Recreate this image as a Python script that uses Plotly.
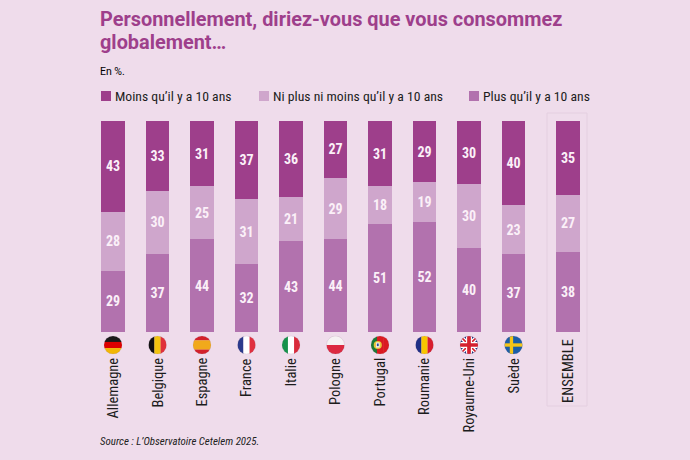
import base64
import plotly.graph_objects as go

countries = ["Allemagne", "Belgique", "Espagne", "France", "Italie", "Pologne",
             "Portugal", "Roumanie", "Royaume-Uni", "Suède", "ENSEMBLE"]
positions = [0, 1, 2, 3, 4, 5, 6, 7, 8, 9, 10.225]
moins = [43, 33, 31, 37, 36, 27, 31, 29, 30, 40, 35]
ni = [28, 30, 25, 31, 21, 29, 18, 19, 30, 23, 27]
plus = [29, 37, 44, 32, 43, 44, 51, 52, 40, 37, 38]
title_lines = ["Personnellement, diriez-vous que vous consommez", "globalement…"]
series_names = ["Moins qu’il y a 10 ans", "Ni plus ni moins qu’il y a 10 ans", "Plus qu’il y a 10 ans"]

BG = "#EFDCEB"
C_MOINS = "#9E3F8B"
C_NI = "#CFA6CC"
C_PLUS = "#B272AE"
NARROW = "Roboto Condensed, Roboto, sans-serif"

L, R, T, B = 90, 600, 121, 332
W, H = 690, 460
def py(p):
    return (B - p) / (B - T)
def px(p):
    return (p - L) / (R - L)

def stripes_h(*cols):
    h = 100 / len(cols)
    return "".join(f'<rect x="0" y="{i*h}" width="100" height="{h+0.5}" fill="{c}"/>' for i, c in enumerate(cols))
def stripes_v(*cols):
    w = 100 / len(cols)
    return "".join(f'<rect x="{i*w}" y="0" width="{w+0.5}" height="100" fill="{c}"/>' for i, c in enumerate(cols))

flags = {
    "Allemagne": stripes_h("#1a1a1a", "#DD0000", "#F2B705"),
    "Belgique": stripes_v("#111111", "#F2C40F", "#E0303A"),
    "Espagne": stripes_h("#D3202A", "#F1A91B", "#F1A91B", "#D3202A"),
    "France": stripes_v("#2B3A8C", "#FFFFFF", "#E0303F"),
    "Italie": stripes_v("#16924B", "#FFFFFF", "#D92B3B"),
    "Pologne": stripes_h("#F6F1F3", "#DC2A41"),
    "Portugal": stripes_v("#1B7A36", "#DA1A20", "#DA1A20")
        + '<circle cx="38" cy="50" r="22" fill="#E8C53A"/><rect x="28" y="36" width="20" height="28" fill="#F4F0EC"/><rect x="33" y="42" width="10" height="14" fill="#2A4A9A"/>',
    "Roumanie": stripes_v("#1F2F86", "#F7C600", "#D81E2E"),
    "Royaume-Uni": '<rect width="100" height="100" fill="#27347F"/>'
        '<path d="M0 0L100 100M100 0L0 100" stroke="#fff" stroke-width="22"/>'
        '<path d="M0 0L100 100M100 0L0 100" stroke="#D5202F" stroke-width="9"/>'
        '<path d="M50 0V100M0 50H100" stroke="#fff" stroke-width="32"/>'
        '<path d="M50 0V100M0 50H100" stroke="#D5202F" stroke-width="20"/>',
    "Suède": '<rect width="100" height="100" fill="#1B5EA8"/>'
        '<rect x="30" y="0" width="18" height="100" fill="#F5C518"/>'
        '<rect x="0" y="41" width="100" height="18" fill="#F5C518"/>',
}

def flag_uri(body):
    svg = ('<svg xmlns="http://www.w3.org/2000/svg" width="108" height="108" viewBox="0 0 100 100">'
           '<defs><clipPath id="c"><circle cx="50" cy="50" r="49"/></clipPath></defs>'
           f'<g clip-path="url(#c)">{body}</g>'
           '<circle cx="50" cy="50" r="49" fill="none" stroke="#8a6f85" stroke-opacity="0.45" stroke-width="2"/></svg>')
    return "data:image/svg+xml;base64," + base64.b64encode(svg.encode("utf-8")).decode()

fig = go.Figure()
for name, vals, col in [(series_names[2], plus, C_PLUS),
                        (series_names[1], ni, C_NI),
                        (series_names[0], moins, C_MOINS)]:
    fig.add_trace(go.Bar(
        x=positions, y=vals, name=name, width=0.525,
        marker=dict(color=col, line=dict(width=0)),
        text=vals, textposition="inside", insidetextanchor="middle", textangle=0,
        insidetextfont=dict(family=NARROW, size=14, color="#FBF0F8", weight="bold"),
        cliponaxis=False, hoverinfo="skip", showlegend=False,
    ))

annotations = []
for c, x in zip(countries, positions):
    top = 339 if c == "ENSEMBLE" else 358
    annotations.append(dict(x=x, y=py(top), xref="x", yref="paper", text=c, showarrow=False,
                            textangle=-90, xanchor="center", yanchor="top", borderpad=0, borderwidth=0,
                            font=dict(family=NARROW, size=14.5, color="#1c1c1c")))

def left_text(text, xp, yp, family, size, color, weight="normal"):
    return dict(x=px(xp), y=py(yp), xref="paper", yref="paper", text=text, showarrow=False,
                xanchor="left", yanchor="middle", borderpad=0, borderwidth=0,
                font=dict(family=family, size=size, color=color, weight=weight))

for text, yp in zip(title_lines, [19.5, 42.5]):
    annotations.append(left_text(text, 100, yp, "Roboto, sans-serif", 19.9, C_MOINS, "bold"))
annotations.append(left_text("En %.", 100, 71, "Roboto, sans-serif", 10.5, "#000000"))
annotations.append(left_text("<i>Source : L’Observatoire Cetelem 2025.</i>", 100, 441.5, NARROW, 10.9, "#222222"))

shapes = [dict(type="rect", xref="paper", yref="paper",
               x0=px(547), x1=px(587), y0=py(406), y1=py(113),
               fillcolor="rgba(0,0,0,0)", line=dict(color="#E4CFE0", width=1), layer="below")]
for name, col, sx in zip(series_names, [C_MOINS, C_NI, C_PLUS], [101, 259, 469]):
    shapes.append(dict(type="rect", xref="paper", yref="paper", x0=px(sx), x1=px(sx + 10),
                       y0=py(101), y1=py(91), fillcolor=col, line=dict(width=0)))
    annotations.append(left_text(name, sx + 14, 96, NARROW, 13.7, "#1c1c1c"))

images = []
for c, x in zip(countries, positions):
    if c in flags:
        images.append(dict(source=flag_uri(flags[c]), xref="x", yref="paper", x=x, y=py(345),
                           sizex=18.5 / 44.5, sizey=18.5 / (B - T), xanchor="center", yanchor="middle",
                           sizing="stretch", layer="above"))

fig.update_layout(
    width=W, height=H, autosize=False,
    margin=dict(l=L, r=W - R, t=T, b=H - B, pad=0),
    paper_bgcolor=BG, plot_bgcolor=BG,
    barmode="stack", showlegend=False,
    xaxis=dict(range=[(L - 113) / 44.5, (R - 113) / 44.5], visible=False, fixedrange=True),
    yaxis=dict(range=[0, 100], visible=False, fixedrange=True),
    annotations=annotations, images=images, shapes=shapes,
)
fig.write_html("out.html", config=dict(displayModeBar=False),
               post_script="document.body.style.margin='0';")
